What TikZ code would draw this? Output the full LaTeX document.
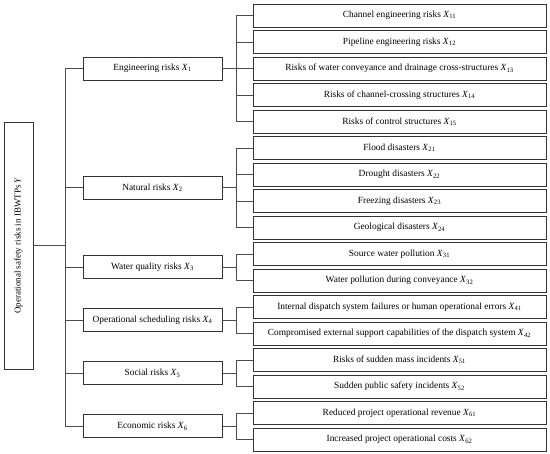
\documentclass[tikz,border=0pt]{standalone}
\usepackage{fontspec}
\setmainfont{Liberation Serif}
\newcommand\rx[1]{\textit{X}\textsubscript{#1}}
\begin{document}
\begin{tikzpicture}[x=1pt,y=-1pt,
  box/.style={draw=black!80,line width=0.8pt,fill=white,minimum height=23pt,inner sep=0pt,font=\fontsize{9.4}{10}\selectfont},
  mid/.style={box,minimum width=139pt},
  leaf/.style={box,minimum width=293pt},
  conn/.style={draw=black!70,line width=0.8pt}]
\useasboundingbox (0,0) rectangle (550,454);
% root
\node[box,rotate=90,minimum width=247pt,minimum height=29pt,font=\fontsize{9}{10}\selectfont] (root) at (18.5,245.5) {Operational safety risks in IBWTPs \textit{Y}};
% middle nodes
\foreach \g/\y/\t in {1/68.5/{Engineering risks \rx{1}},
                      2/187.75/{Natural risks \rx{2}},
                      3/267.25/{Water quality risks \rx{3}},
                      4/320.25/{Operational scheduling risks \rx{4}},
                      5/373.25/{Social risks \rx{5}},
                      6/426.25/{Economic risks \rx{6}}}
  \node[mid] (m\g) at (152.5,\y) {\t};
% leaves
\foreach \i/\t in {0/{Channel engineering risks \rx{11}},
                   1/{Pipeline engineering risks \rx{12}},
                   2/{Risks of water conveyance and drainage cross-structures \rx{13}},
                   3/{Risks of channel-crossing structures \rx{14}},
                   4/{Risks of control structures \rx{15}},
                   5/{Flood disasters \rx{21}},
                   6/{Drought disasters \rx{22}},
                   7/{Freezing disasters \rx{23}},
                   8/{Geological disasters \rx{24}},
                   9/{Source water pollution \rx{31}},
                   10/{Water pollution during conveyance \rx{32}},
                   11/{Internal dispatch system failures or human operational errors \rx{41}},
                   12/{Compromised external support capabilities of the dispatch system \rx{42}},
                   13/{Risks of sudden mass incidents \rx{51}},
                   14/{Sudden public safety incidents \rx{52}},
                   15/{Reduced project operational revenue \rx{61}},
                   16/{Increased project operational costs \rx{62}}}
  \node[leaf] (l\i) at (399.5,15.5+26.5*\i) {\t};
% trunk connectors
\foreach \g in {1,...,6}
  \draw[conn] (root.south) -- ++(32,0) |- (m\g.west);
% group connectors
\foreach \g/\i in {1/0,1/1,1/2,1/3,1/4,2/5,2/6,2/7,2/8,3/9,3/10,4/11,4/12,5/13,5/14,6/15,6/16}
  \draw[conn] (m\g.east) -- ++(13.5,0) |- (l\i.west);
\end{tikzpicture}
\end{document}
